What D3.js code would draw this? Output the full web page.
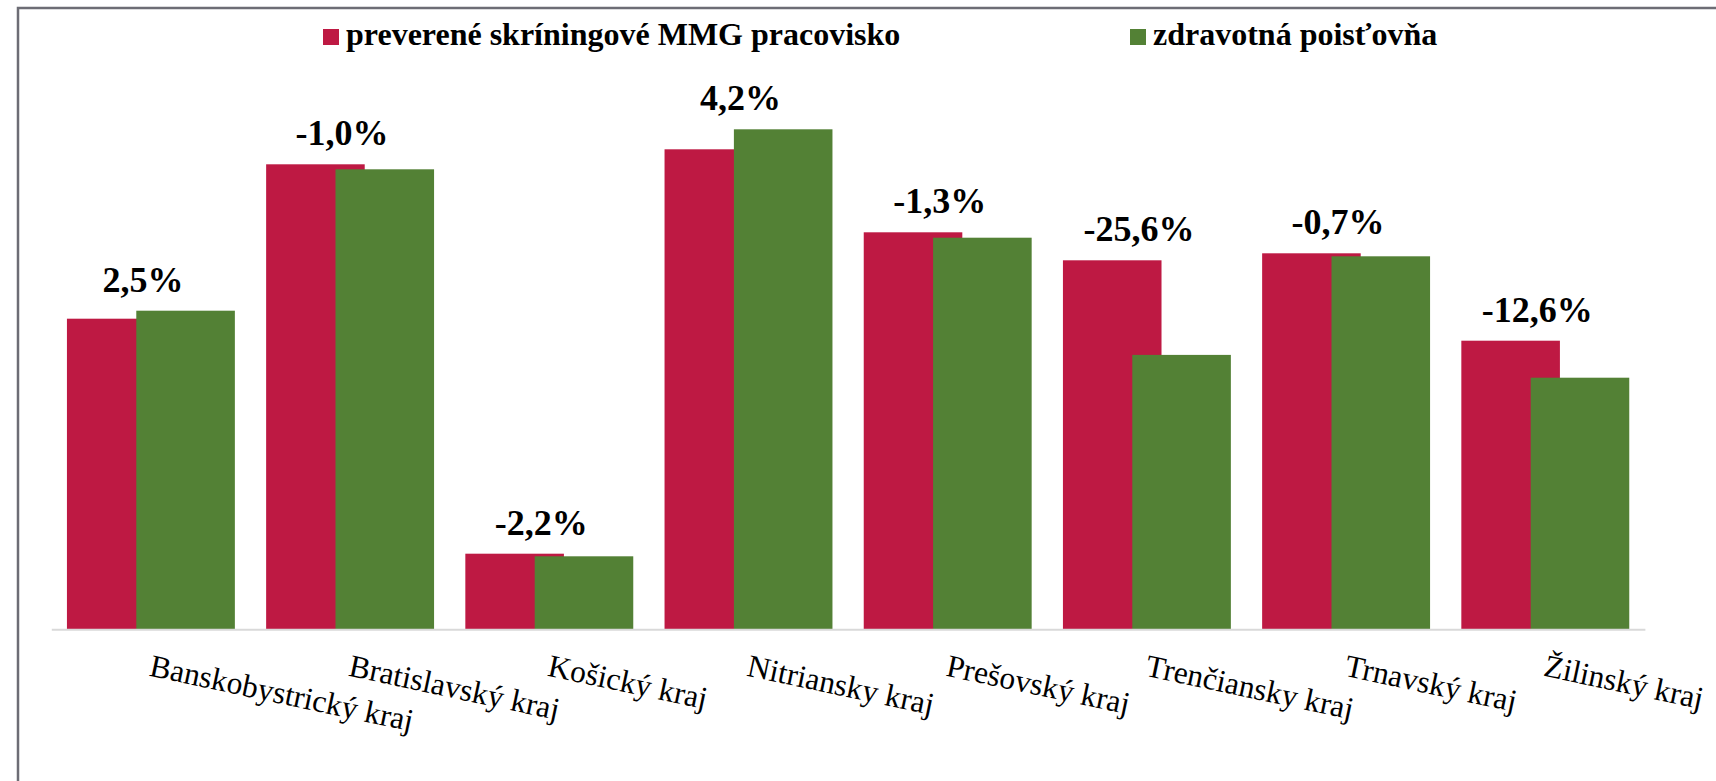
<!DOCTYPE html>
<html>
<head>
<meta charset="utf-8">
<script src="https://cdn.jsdelivr.net/npm/d3@7"></script>
<style>
  body { margin: 0; background: #fff; }
  svg { display: block; }
</style>
</head>
<body>
<div id="chart"></div>
<script>
// data
var regions = ["Banskobystrický kraj", "Bratislavský kraj", "Košický kraj", "Nitriansky kraj",
               "Prešovský kraj", "Trenčiansky kraj", "Trnavský kraj", "Žilinský kraj"];
var seriesNames = ["preverené skríningové MMG pracovisko", "zdravotná poisťovňa"];
var pracovisko = [15530, 23250, 3780, 24000, 19850, 18450, 18800, 14430];
var poistovna  = [15930, 23000, 3650, 25000, 19580, 13720, 18650, 12580];
var diffLabels = ["2,5%", "-1,0%", "-2,2%", "4,2%", "-1,3%", "-25,6%", "-0,7%", "-12,6%"];

var colors = ["#BE1943", "#538135"];
var serif = "'Liberation Serif', 'Times New Roman', Times, 'DejaVu Serif', serif";

var W = 1716, H = 781;
var baseY = 629.3;

var svg = d3.select("#chart")
  .append("svg")
    .attr("width", W)
    .attr("height", H);

// outer frame (runs off the right and bottom edge)
svg.append("rect")
  .attr("x", 18).attr("y", 8)
  .attr("width", W + 20).attr("height", H + 20)
  .attr("fill", "none")
  .attr("stroke", "#6d6d75")
  .attr("stroke-width", 2.5);

// scales
var x = d3.scaleBand()
  .domain(regions)
  .range([51.3, 1644.9])
  .paddingInner(0.157)
  .paddingOuter(0.0785);

var y = d3.scaleLinear()
  .domain([0, 27000])
  .range([baseY, baseY - 27000 / 50]);

// bars overlap inside a group (red first, green on top)
var barW = x.bandwidth() * 0.587;
var shift = x.bandwidth() - barW;

var rows = regions.map(function(r, i) {
  return { region: r, vals: [pracovisko[i], poistovna[i]], label: diffLabels[i] };
});

var groups = svg.selectAll("g.grp")
  .data(rows)
  .enter()
  .append("g")
    .attr("class", "grp")
    .attr("transform", function(d) { return "translate(" + x(d.region) + ",0)"; });

groups.selectAll("rect")
  .data(function(d) { return d.vals; })
  .enter()
  .append("rect")
    .attr("x", function(d, i) { return i * shift; })
    .attr("y", function(d) { return y(d); })
    .attr("width", barW)
    .attr("height", function(d) { return y(0) - y(d); })
    .attr("fill", function(d, i) { return colors[i]; });

// percentage labels above each group
groups.append("text")
  .attr("x", x.bandwidth() / 2 - 8)
  .attr("y", function(d) { return y(d3.max(d.vals)) - 19; })
  .attr("text-anchor", "middle")
  .style("font-family", serif)
  .style("font-weight", "bold")
  .style("font-size", "36px")
  .style("fill", "#000")
  .text(function(d) { return d.label; });

// x axis with rotated category labels
var xAxis = svg.append("g")
  .attr("transform", "translate(0," + baseY + ")")
  .call(d3.axisBottom(x).tickSize(0).tickSizeOuter(0));

xAxis.select(".domain")
  .attr("stroke", "#d9d9d9")
  .attr("stroke-width", 2);

xAxis.selectAll("text")
  .attr("x", 0)
  .attr("y", 0)
  .attr("dy", "0.72em")
  .attr("transform", "translate(2,24) rotate(12)")
  .attr("text-anchor", "start")
  .style("font-family", serif)
  .style("font-size", "31.5px")
  .style("fill", "#000");

// legend
var legendX = [323, 1130];
var legend = svg.selectAll("g.leg")
  .data(seriesNames)
  .enter()
  .append("g")
    .attr("class", "leg")
    .attr("transform", function(d, i) { return "translate(" + legendX[i] + ",29)"; });

legend.append("rect")
  .attr("width", 16)
  .attr("height", 16)
  .attr("fill", function(d, i) { return colors[i]; });

legend.append("text")
  .attr("x", 23)
  .attr("y", 16)
  .style("font-family", serif)
  .style("font-weight", "bold")
  .style("font-size", "32px")
  .style("fill", "#000")
  .text(function(d) { return d; });
</script>
</body>
</html>
